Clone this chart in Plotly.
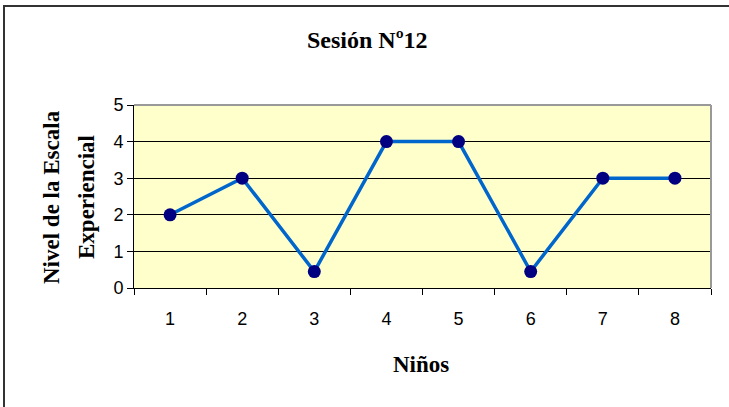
import plotly.graph_objects as go

ninos = ["1", "2", "3", "4", "5", "6", "7", "8"]
nivel = [2, 3, 0.45, 4, 4, 0.45, 3, 3]
title_text = "Sesión Nº12"
x_title = "Niños"
y_title_1 = "Nivel de la Escala"
y_title_2 = "Experiencial"

W, H = 729, 407
L, R, T, B = 134, 18, 105, 119
pw, ph = W - L - R, H - T - B

def px(x):
    return (x - L) / pw

def py(y):
    return (H - B - y) / ph

fig = go.Figure()
fig.add_trace(go.Scatter(
    x=ninos, y=nivel, mode="lines+markers",
    line=dict(color="#0066CC", width=3.5),
    marker=dict(color="#000080", size=13),
    cliponaxis=False,
))

serif = "Liberation Serif, Times New Roman, serif"
sans = "Liberation Sans, Arial, sans-serif"
ann = dict(xref="paper", yref="paper", showarrow=False, xanchor="center", yanchor="middle")
fig.update_layout(
    width=W, height=H,
    margin=dict(l=L, r=R, t=T, b=B),
    paper_bgcolor="white",
    plot_bgcolor="#FFFFCC",
    showlegend=False,
    xaxis=dict(
        type="category", tickson="boundaries", ticks="outside", ticklen=6,
        tickcolor="black", showline=True, linecolor="black", linewidth=1,
        showgrid=False, tickfont=dict(family=sans, size=18, color="black"),
        ticklabelstandoff=14,
        range=[-0.5, 7.5],
    ),
    yaxis=dict(
        range=[0, 5], dtick=1, ticks="outside", ticklen=6, tickcolor="black",
        showline=True, linecolor="black", linewidth=1,
        showgrid=True, gridcolor="black", gridwidth=1, zeroline=False,
        tickfont=dict(family=sans, size=18, color="black"),
    ),
    annotations=[
        dict(text="<b>" + title_text + "</b>", x=px(367), y=py(40),
             font=dict(family=serif, size=24, color="black"), **ann),
        dict(text="<b>" + x_title + "</b>", x=px(421), y=py(364),
             font=dict(family=serif, size=23, color="black"), **ann),
        dict(text="<b>" + y_title_1 + "</b>", x=px(51), y=py(197), textangle=-90,
             font=dict(family=serif, size=23, color="black"), **ann),
        dict(text="<b>" + y_title_2 + "</b>", x=px(86), y=py(197), textangle=-90,
             font=dict(family=serif, size=23, color="black"), **ann),
    ],
    shapes=[
        dict(type="line", xref="paper", yref="paper", x0=0, x1=1, y0=1, y1=1,
             line=dict(color="#999999", width=2)),
        dict(type="line", xref="paper", yref="paper", x0=1, x1=1, y0=0, y1=1,
             line=dict(color="#999999", width=2)),
        dict(type="rect", xref="paper", yref="paper",
             x0=px(4), y0=py(6), x1=px(760), y1=py(430),
             line=dict(color="#333333", width=2)),
    ],
)

fig.write_html("out.html", config={"displayModeBar": False},
               post_script="document.body.style.margin='0';")
